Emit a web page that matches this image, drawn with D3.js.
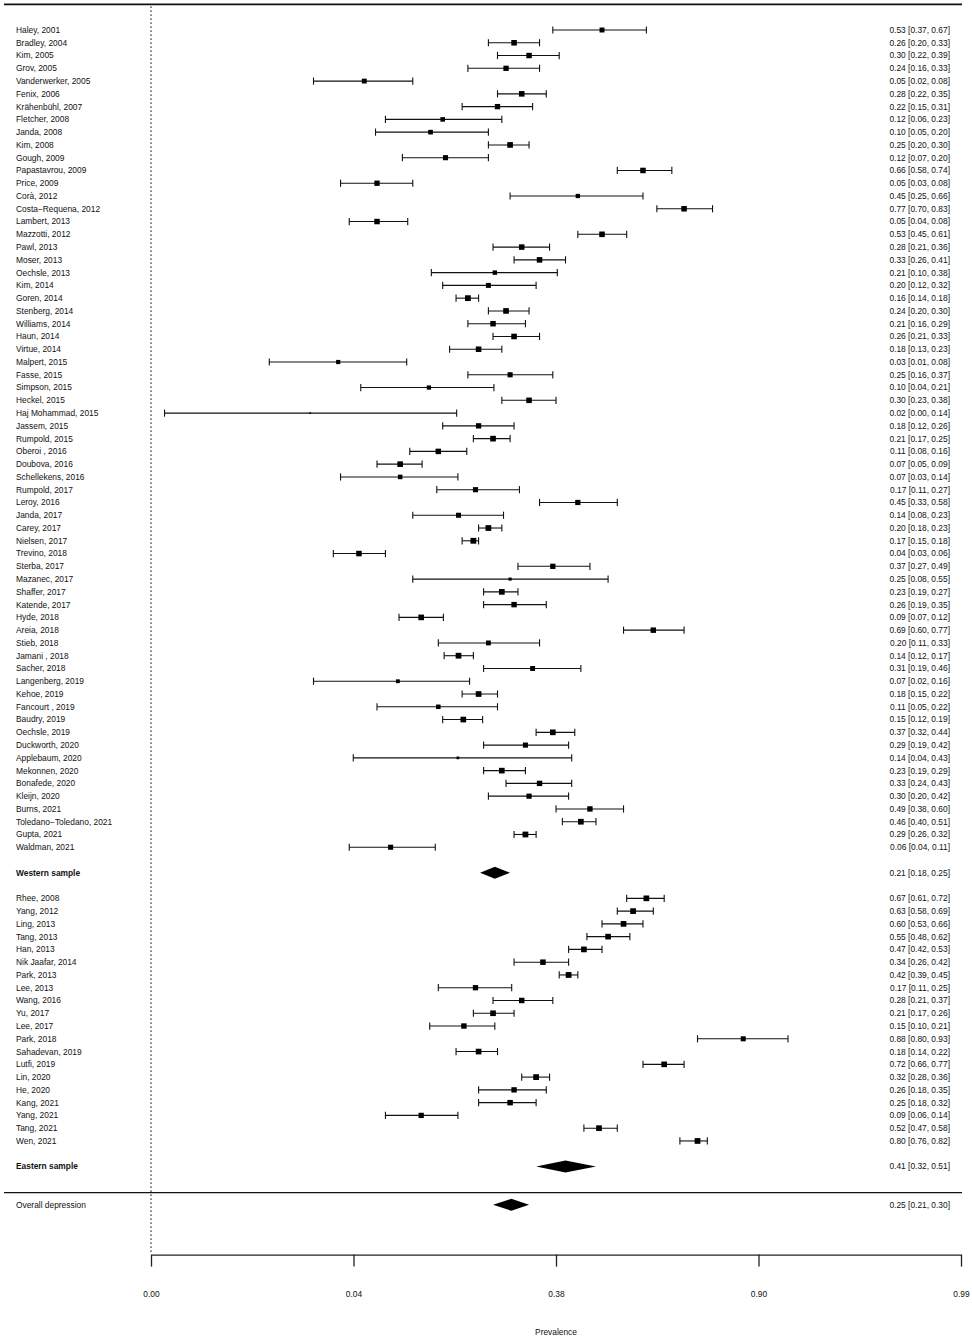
<!DOCTYPE html>
<html><head><meta charset="utf-8">
<script src="https://cdn.jsdelivr.net/npm/d3@7"></script>
<style>
body{margin:0;background:#fff}
text{font-family:"Liberation Sans",Arial,Helvetica,sans-serif;fill:#111}
</style>
</head><body>
<svg id="c" width="972" height="1339"></svg>
<script>
// ---------- DATA ----------
const westernStudies = ["Haley, 2001","Bradley, 2004","Kim, 2005","Grov, 2005","Vanderwerker, 2005","Fenix, 2006","Krähenbühl, 2007","Fletcher, 2008","Janda, 2008","Kim, 2008","Gough, 2009","Papastavrou, 2009","Price, 2009","Corà, 2012","Costa\u2212Requena, 2012","Lambert, 2013","Mazzotti, 2012","Pawl, 2013","Moser, 2013","Oechsle, 2013","Kim, 2014","Goren, 2014","Stenberg, 2014","Williams, 2014","Haun, 2014","Virtue, 2014","Malpert, 2015","Fasse, 2015","Simpson, 2015","Heckel, 2015","Haj Mohammad, 2015","Jassem, 2015","Rumpold, 2015","Oberoi , 2016","Doubova, 2016","Schellekens, 2016","Rumpold, 2017","Leroy, 2016","Janda, 2017","Carey, 2017","Nielsen, 2017","Trevino, 2018","Sterba, 2017","Mazanec, 2017","Shaffer, 2017","Katende, 2017","Hyde, 2018","Areia, 2018","Stieb, 2018","Jamani , 2018","Sacher, 2018","Langenberg, 2019","Kehoe, 2019","Fancourt , 2019","Baudry, 2019","Oechsle, 2019","Duckworth, 2020","Applebaum, 2020","Mekonnen, 2020","Bonafede, 2020","Kleijn, 2020","Burns, 2021","Toledano\u2212Toledano, 2021","Gupta, 2021","Waldman, 2021"];
const westernEst = [0.53,0.26,0.30,0.24,0.046,0.28,0.22,0.12,0.104,0.25,0.124,0.66,0.054,0.45,0.77,0.054,0.53,0.28,0.33,0.214,0.20,0.16,0.24,0.21,0.26,0.18,0.033,0.25,0.102,0.30,0.023,0.18,0.21,0.114,0.072,0.072,0.174,0.45,0.144,0.20,0.17,0.043,0.37,0.25,0.23,0.26,0.093,0.69,0.20,0.144,0.31,0.07,0.18,0.114,0.152,0.37,0.29,0.143,0.23,0.33,0.30,0.49,0.46,0.29,0.064];
const westernLo = [0.37,0.20,0.22,0.16,0.024,0.22,0.15,0.06,0.053,0.20,0.074,0.58,0.034,0.25,0.70,0.038,0.45,0.21,0.26,0.105,0.12,0.14,0.20,0.16,0.21,0.13,0.0135,0.16,0.044,0.23,0.0034,0.12,0.17,0.081,0.054,0.034,0.112,0.33,0.084,0.18,0.15,0.031,0.27,0.084,0.19,0.19,0.071,0.60,0.114,0.122,0.19,0.024,0.15,0.054,0.12,0.32,0.19,0.04,0.19,0.24,0.20,0.38,0.40,0.26,0.038];
const westernHi = [0.67,0.33,0.39,0.33,0.084,0.35,0.31,0.23,0.20,0.30,0.20,0.74,0.084,0.66,0.83,0.079,0.61,0.36,0.41,0.384,0.32,0.18,0.30,0.29,0.33,0.23,0.078,0.37,0.212,0.38,0.141,0.26,0.25,0.158,0.094,0.143,0.274,0.58,0.234,0.23,0.18,0.06,0.49,0.55,0.27,0.35,0.121,0.77,0.33,0.17,0.46,0.163,0.22,0.22,0.188,0.44,0.42,0.43,0.29,0.43,0.42,0.60,0.51,0.32,0.11];

const easternStudies = ["Rhee, 2008","Yang, 2012","Ling, 2013","Tang, 2013","Han, 2013","Nik Jaafar, 2014","Park, 2013","Lee, 2013","Wang, 2016","Yu, 2017","Lee, 2017","Park, 2018","Sahadevan, 2019","Lutfi, 2019","Lin, 2020","He, 2020","Kang, 2021","Yang, 2021","Tang, 2021","Wen, 2021"];
const easternEst = [0.67,0.63,0.60,0.55,0.47,0.34,0.42,0.174,0.28,0.21,0.153,0.88,0.18,0.72,0.32,0.26,0.25,0.093,0.52,0.80];
const easternLo = [0.61,0.58,0.53,0.48,0.42,0.26,0.39,0.114,0.21,0.17,0.103,0.80,0.14,0.66,0.28,0.18,0.18,0.06,0.47,0.76];
const easternHi = [0.72,0.69,0.66,0.62,0.53,0.42,0.45,0.254,0.37,0.26,0.214,0.93,0.22,0.77,0.36,0.35,0.32,0.143,0.58,0.82];

const summaryLabels = ["Western sample","Eastern sample","Overall depression"];
const summaryEst = [0.214,0.41,0.253];
const summaryLo = [0.183,0.32,0.21];
const summaryHi = [0.25,0.51,0.30];

const tickLogits = [-5.86,-3.175,-0.49,2.195,4.88];
const tickLabels = ["0.00","0.04","0.38","0.90","0.99"];
const axisTitle = "Prevalence";

// ---------- LAYOUT ----------
const svg = d3.select("#c");
const logit = p => Math.log(p/(1-p));
const x = d3.scaleLinear().domain([-5.86,4.88]).range([151,961]);
const y = d3.scaleLinear().domain([0,92]).range([30,1204.8]);
const fs = 8.4;
const fmt = v => v.toFixed(2);
const lab = (e,l,h) => `${fmt(e)} [${fmt(l)}, ${fmt(h)}]`;

const rows = [];
westernStudies.forEach((n,i)=>rows.push({name:n,est:westernEst[i],lo:westernLo[i],hi:westernHi[i],row:i}));
easternStudies.forEach((n,i)=>rows.push({name:n,est:easternEst[i],lo:easternLo[i],hi:easternHi[i],row:68+i}));
const sumRows = [66,89,92].map((r,i)=>({name:summaryLabels[i],est:summaryEst[i],lo:summaryLo[i],hi:summaryHi[i],row:r,bold:i<2}));

// marker size from precision (random-effects style weight)
const tau2 = 0.8;
rows.forEach(d=>{ const se=(logit(d.hi)-logit(d.lo))/3.92; d.w = 1/(se*se+tau2); });
const size = d3.scaleLinear().domain(d3.extent(rows,d=>d.w)).range([1.6,5.8]);

// top & separator lines
svg.append("line").attr("x1",4).attr("x2",962).attr("y1",y(-2)).attr("y2",y(-2)).attr("stroke","#111").attr("stroke-width",1.8);
svg.append("line").attr("x1",4).attr("x2",962).attr("y1",y(91.05)).attr("y2",y(91.05)).attr("stroke","#111").attr("stroke-width",1.4);

// dotted reference line
svg.append("line").attr("x1",x(tickLogits[0])).attr("x2",x(tickLogits[0])).attr("y1",y(-2)+2).attr("y2",y(95.9))
  .attr("stroke","#111").attr("stroke-width",1.3).attr("stroke-dasharray","1.3,2.7");

// CIs
const g = svg.append("g");
rows.forEach(d=>{
  const yy = y(d.row), x1 = x(logit(d.lo)), x2 = x(logit(d.hi)), xm = x(logit(d.est));
  g.append("line").attr("x1",x1).attr("x2",x2).attr("y1",yy).attr("y2",yy).attr("stroke","#111").attr("stroke-width",1.1);
  [x1,x2].forEach(xx=>g.append("line").attr("x1",xx).attr("x2",xx).attr("y1",yy-3.6).attr("y2",yy+3.6).attr("stroke","#111").attr("stroke-width",1.1));
  const s = size(d.w);
  g.append("rect").attr("x",xm-s/2).attr("y",yy-s/2).attr("width",s).attr("height",s).attr("fill","#000");
});
// diamonds
sumRows.forEach(d=>{
  const yy=y(d.row), x1=x(logit(d.lo)), x2=x(logit(d.hi)), xm=x(logit(d.est));
  g.append("polygon").attr("points",`${x1},${yy} ${xm},${yy-6} ${x2},${yy} ${xm},${yy+6}`).attr("fill","#000");
});

// labels
const all = rows.concat(sumRows);
svg.append("g").selectAll("text").data(all).join("text")
  .attr("x",16).attr("y",d=>y(d.row)).attr("dy","0.35em").attr("font-size",fs)
  .attr("font-weight",d=>d.bold?"bold":"normal").text(d=>d.name);
svg.append("g").selectAll("text").data(all).join("text")
  .attr("x",950).attr("y",d=>y(d.row)).attr("dy","0.35em").attr("font-size",fs)
  .attr("text-anchor","end").text(d=>lab(d.est,d.lo,d.hi));

// axis
const ax = d3.axisBottom(x).tickValues(tickLogits).tickFormat((d,i)=>tickLabels[i]).tickSize(12).tickPadding(24).tickSizeOuter(0);
const axg = svg.append("g").attr("transform",`translate(0,${y(95.9)})`).call(ax);
axg.select(".domain").attr("stroke","#222").attr("stroke-width",1.3);
axg.selectAll(".tick line").attr("stroke","#222").attr("stroke-width",1.3);
axg.selectAll(".tick text").attr("font-size",fs).attr("fill","#111").attr("font-family","Liberation Sans, Arial, sans-serif");
svg.append("text").attr("x",x(-0.49)).attr("y",1335).attr("text-anchor","middle").attr("font-size",fs).text(axisTitle);
</script>
</body></html>
